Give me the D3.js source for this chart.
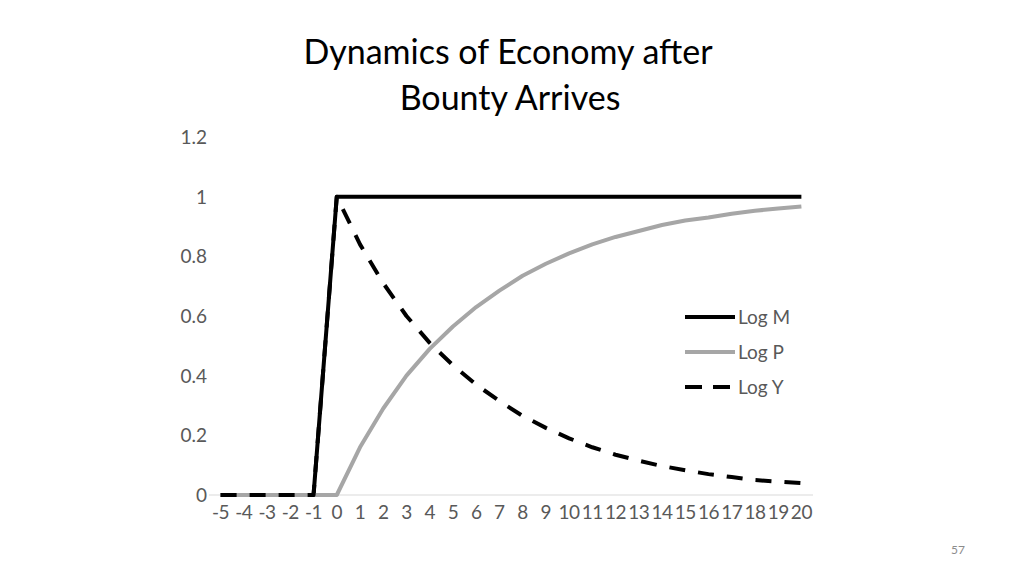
<!DOCTYPE html>
<html>
<head>
<meta charset="utf-8">
<script src="https://cdn.jsdelivr.net/npm/d3@7"></script>
<style>
  body { margin: 0; background: #fff; }
  svg { font-family: Lato, "Open Sans", sans-serif; }
</style>
</head>
<body>
<div id="chart"></div>
<script>
const periods = [-5, -4, -3, -2, -1, 0, 1, 2, 3, 4, 5, 6, 7, 8, 9, 10, 11, 12, 13, 14, 15, 16, 17, 18, 19, 20];
const logM = [0, 0, 0, 0, 0, 1, 1, 1, 1, 1, 1, 1, 1, 1, 1, 1, 1, 1, 1, 1, 1, 1, 1, 1, 1, 1];
const logP = [0, 0, 0, 0, 0, 0, 0.16, 0.29, 0.40, 0.49, 0.565, 0.63, 0.685, 0.735, 0.775, 0.81, 0.84, 0.865, 0.885, 0.905, 0.92, 0.93, 0.943, 0.953, 0.96, 0.967];
const logY = [0, 0, 0, 0, 0, 1, 0.84, 0.71, 0.60, 0.51, 0.435, 0.37, 0.315, 0.265, 0.225, 0.19, 0.16, 0.135, 0.115, 0.097, 0.083, 0.07, 0.06, 0.05, 0.045, 0.04];
const yTicks = [0, 0.2, 0.4, 0.6, 0.8, 1, 1.2];
const seriesNames = ["Log M", "Log P", "Log Y"];

const width = 1024, height = 575;
const svg = d3.select("#chart").append("svg")
  .attr("width", width)
  .attr("height", height);

const x = d3.scalePoint().domain(periods).range([209, 813]).padding(0.5);
const y = d3.scaleLinear().domain([0, 1.2]).range([495, 137]);

// title
svg.append("text")
  .attr("x", 508).attr("y", 64)
  .attr("text-anchor", "middle")
  .style("font-size", "34px").style("fill", "#000")
  .text("Dynamics of Economy after");
svg.append("text")
  .attr("x", 510).attr("y", 110)
  .attr("text-anchor", "middle")
  .style("font-size", "34px").style("fill", "#000")
  .text("Bounty Arrives");

// y axis labels (no line)
svg.append("g")
  .selectAll("text")
  .data(yTicks)
  .enter().append("text")
  .attr("x", 207)
  .attr("y", (d) => y(d) + 7)
  .attr("text-anchor", "end")
  .style("font-size", "19px")
  .style("fill", "#595959")
  .text((d) => d);

// x axis
svg.append("line")
  .attr("x1", 209).attr("x2", 813)
  .attr("y1", y(0)).attr("y2", y(0))
  .style("stroke", "#d9d9d9").style("stroke-width", 1);

svg.append("g")
  .selectAll("text")
  .data(periods)
  .enter().append("text")
  .attr("x", (d) => x(d))
  .attr("y", 519)
  .attr("text-anchor", "middle")
  .style("font-size", "19px")
  .style("letter-spacing", "-0.5px")
  .style("fill", "#595959")
  .text((d) => d);

const line = d3.line()
  .x((d, i) => x(periods[i]))
  .y((d) => y(d));

const styles = [
  { color: "#000000", dash: null },
  { color: "#a6a6a6", dash: null },
  { color: "#000000", dash: "16,13" },
];
const data = [logM, logP, logY];

// series order: M, then P on top, then Y dashed on top
data.forEach((d, k) => {
  svg.append("path")
    .attr("d", line(d))
    .style("fill", "none")
    .style("stroke", styles[k].color)
    .style("stroke-width", 4)
    .style("stroke-dasharray", styles[k].dash)
    .style("stroke-linejoin", "round");
});

// legend
const legend = svg.append("g");
seriesNames.forEach((name, i) => {
  const ly = 317 + i * 35;
  legend.append("line")
    .attr("x1", 685).attr("x2", 735)
    .attr("y1", ly).attr("y2", ly)
    .style("stroke", styles[i].color)
    .style("stroke-width", 4)
    .style("stroke-dasharray", i === 2 ? "17,11" : null);
  legend.append("text")
    .attr("x", 738).attr("y", ly + 7)
    .style("font-size", "19px")
    .style("fill", "#595959")
    .text(name);
});

// slide number
svg.append("text")
  .attr("x", 958).attr("y", 554)
  .attr("text-anchor", "middle")
  .style("font-size", "12px")
  .style("fill", "#8c8c8c")
  .text("57");
</script>
</body>
</html>
